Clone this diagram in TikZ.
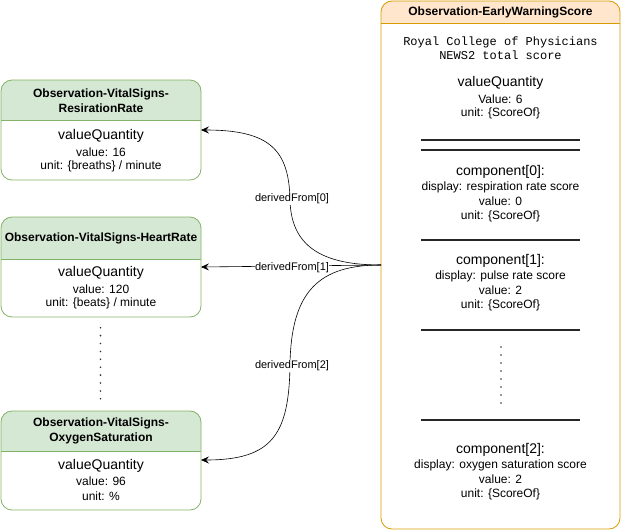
\documentclass[tikz,border=0pt]{standalone}
\usepackage{fontspec}
\setmainfont{Liberation Sans}
\newfontfamily\monofont{Liberation Mono}
\usetikzlibrary{arrows.meta}
\definecolor{gfill}{HTML}{D5E8D4}
\definecolor{gline}{HTML}{82B366}
\definecolor{ofill}{HTML}{FFE6CC}
\definecolor{oline}{HTML}{D79B00}
\tikzset{
  txt/.style={inner sep=0pt, align=center, font=\fontsize{12}{14}\selectfont},
  bigtxt/.style={inner sep=0pt, font=\fontsize{14}{16}\selectfont},
  hdr/.style={inner sep=0pt, align=center, font=\fontsize{12}{15}\selectfont\bfseries},
  rule/.style={line width=1.6pt, black!85},
  conn/.style={-{Stealth[length=8pt,width=7pt,inset=3pt]}, line width=0.6pt},
  lbl/.style={fill=white, inner sep=0.5pt, font=\fontsize{11}{13}\selectfont},
  dotcol/.style={fill=black!80}
}
\newcommand\vsbox[4]{% top, headerbottom, bottom, name
  \fill[gfill, rounded corners=11pt] (1,#1) rectangle (201,#2+10);
  \fill[white] (1.5,#2) rectangle (200.5,#2+12);
  \draw[gline, line width=0.8pt, rounded corners=11pt] (1,#1) rectangle (201,#3);
  \draw[gline, line width=0.8pt] (1,#2) -- (201,#2);
}
\begin{document}
\begin{tikzpicture}[x=1pt,y=-1pt]
\useasboundingbox (0,0) rectangle (621,531);
% left boxes
\vsbox{80}{120}{180}{b1}
\vsbox{217}{259}{317}{b2}
\vsbox{411}{451}{510}{b3}

\node[hdr] (h1) at (101,101) {Observation-VitalSigns-\\ResirationRate};
\node[bigtxt] (q1) at (101,136) {valueQuantity};
\node[txt] (v1) at (101,152) {value: 16};
\node[txt] (u1) at (101,166) {unit: \{breaths\} / minute};

\node[hdr] (h2) at (101,238) {Observation-VitalSigns-HeartRate};
\node[bigtxt] (q2) at (101,273) {valueQuantity};
\node[txt] (v2) at (101,289) {value: 120};
\node[txt] (u2) at (101,303) {unit: \{beats\} / minute};

\node[hdr] (h3) at (101,431) {Observation-VitalSigns-\\OxygenSaturation};
\node[bigtxt] (q3) at (101,466) {valueQuantity};
\node[txt] (v3) at (101,481) {value: 96};
\node[txt] (u3) at (101,496) {unit: \%};

\foreach \y in {0,...,9} \fill[dotcol] (100.5,327.7+\y*7.9) circle (0.9pt);

% right box
\fill[ofill, rounded corners=11pt] (381,1) rectangle (620,30);
\fill[white] (381.5,23) rectangle (619.5,34);
\draw[oline, line width=0.8pt, rounded corners=11pt] (381,1) rectangle (620,529);
\draw[oline, line width=0.8pt] (381,23) -- (620,23);
\node[hdr] (hr) at (500.5,12) {Observation-EarlyWarningScore};
\node[txt, font=\fontsize{12}{14}\selectfont\monofont] (rc) at (500.5,48) {Royal College of Physicians\\NEWS2 total score};
\node[bigtxt] (qr) at (500.5,83) {valueQuantity};
\node[txt] (vr) at (500.5,99) {Value: 6};
\node[txt] (ur) at (500.5,113) {unit: \{ScoreOf\}};
\draw[rule] (421,140) -- (580,140);
\draw[rule] (421,150) -- (580,150);
\node[bigtxt] (c0) at (500.5,172) {component[0]:};
\node[txt] (d0) at (500.5,187) {display: respiration rate score};
\node[txt] (e0) at (500.5,201) {value: 0};
\node[txt] (f0) at (500.5,216) {unit: \{ScoreOf\}};
\draw[rule] (421,240) -- (580,240);
\node[bigtxt] (c1) at (500.5,261) {component[1]:};
\node[txt] (d1) at (500.5,276) {display: pulse rate score};
\node[txt] (e1) at (500.5,290) {value: 2};
\node[txt] (f1) at (500.5,305) {unit: \{ScoreOf\}};
\draw[rule] (421,330) -- (580,330);
\foreach \y in {0,...,7} \fill[dotcol] (501,347+\y*8) circle (0.9pt);
\draw[rule] (421,420) -- (580,420);
\node[bigtxt] (c2) at (500.5,450) {component[2]:};
\node[txt] (d2) at (500.5,465) {display: oxygen saturation score};
\node[txt] (e2) at (500.5,479) {value: 2};
\node[txt] (f2) at (500.5,494) {unit: \{ScoreOf\}};

% connectors
\coordinate (src) at (381,265);
\coordinate (t1) at (201,130);
\coordinate (t2) at (201,267);
\coordinate (t3) at (201,460);
\draw[conn] (src) .. controls (320,265) and (291,245) .. (290,200)
  .. controls (289,150) and (270,130) .. (t1);
\draw[conn] (src) -- (t2);
\draw[conn] (src) .. controls (320,265) and (291,290) .. (290,365)
  .. controls (289,435) and (272,460) .. (t3);
\node[lbl] (l0) at (292,199) {derivedFrom[0]};
\node[lbl] (l1) at (292,268) {derivedFrom[1]};
\node[lbl] (l2) at (292,366) {derivedFrom[2]};
\end{tikzpicture}
\end{document}
